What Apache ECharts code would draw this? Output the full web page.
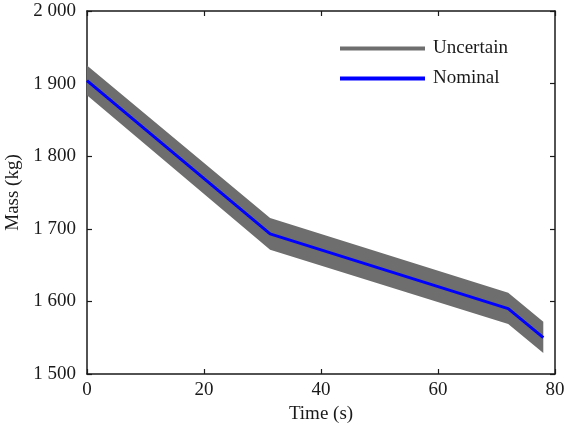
<!DOCTYPE html>
<html>
<head>
<meta charset="utf-8">
<script src="https://cdn.jsdelivr.net/npm/echarts@6/dist/echarts.min.js"></script>
<style>html,body{margin:0;padding:0;background:#fff}#c{width:566px;height:431px}</style>
</head>
<body>
<div id="c"></div>
<script>
var timeS = [0, 31.3, 72, 78];
var nominal = [1904, 1693, 1590, 1550];
var upperBound = [1925, 1715, 1612, 1572];
var lowerBound = [1884, 1671, 1569, 1529];
var yTicks = ['1 500', '1 600', '1 700', '1 800', '1 900', '2 000'];

var chart = echarts.init(document.getElementById('c'));
var font = 'Liberation Serif';
var bandData = timeS.map(function(t,i){ return [t, lowerBound[i], upperBound[i]]; });
var nomData = timeS.map(function(t,i){ return [t, nominal[i]]; });
var axisCommon = {
  axisLine: {show: true, onZero: false, lineStyle: {color: '#1a1a1a', width: 1.5}},
  axisTick: {show: true, inside: true, length: 5, lineStyle: {color: '#1a1a1a', width: 1.2}},
  splitLine: {show: false}
};
chart.setOption({
  animation: false,
  grid: {left: 87, right: 11, top: 11, bottom: 57, containLabel: false, outerBoundsMode: 'none'},
  legend: {
    orient: 'vertical', left: 335, top: 34, itemWidth: 85, itemHeight: 4, itemGap: 11,
    data: [{name: 'Uncertain', icon: 'rect'}, {name: 'Nominal', icon: 'rect'}],
    textStyle: {fontFamily: font, fontSize: 19, color: '#1a1a1a', padding: [0, 0, 0, 3]}
  },
  xAxis: [
    Object.assign({type: 'value', min: 0, max: 80, interval: 20, position: 'bottom',
      name: 'Time (s)', nameLocation: 'middle', nameGap: 29,
      nameTextStyle: {fontFamily: font, fontSize: 19, color: '#1a1a1a'},
      axisLabel: {fontFamily: font, fontSize: 19, color: '#1a1a1a', margin: 7}}, axisCommon),
    Object.assign({type: 'value', min: 0, max: 80, interval: 20, position: 'top', axisLabel: {show: false}}, axisCommon)
  ],
  yAxis: [
    Object.assign({type: 'value', min: 1500, max: 2000, interval: 100, position: 'left',
      name: 'Mass (kg)', nameLocation: 'middle', nameGap: 60, nameRotate: 90,
      nameTextStyle: {fontFamily: font, fontSize: 19, color: '#1a1a1a'},
      axisLabel: {fontFamily: font, fontSize: 19, color: '#1a1a1a', margin: 11,
        formatter: function(v){ var i = Math.round((v-1500)/100); return yTicks[i]; }}}, axisCommon),
    Object.assign({type: 'value', min: 1500, max: 2000, interval: 100, position: 'right', axisLabel: {show: false}}, axisCommon)
  ],
  series: [
    {type: 'custom', name: 'Uncertain', data: bandData, color: '#6e6e6e', z: 2,
      encode: {x: 0, y: [1, 2]},
      renderItem: function(params, api){
        if (params.dataIndex !== 0) return null;
        var top = [], bot = [];
        for (var i = 0; i < bandData.length; i++) {
          top.push(api.coord([bandData[i][0], bandData[i][2]]));
          bot.unshift(api.coord([bandData[i][0], bandData[i][1]]));
        }
        return {type: 'polygon', shape: {points: top.concat(bot)}, style: {fill: '#6e6e6e'}};
      }},
    {type: 'line', name: 'Nominal', data: nomData, symbol: 'none', color: '#0000ff',
      lineStyle: {width: 3, color: '#0000ff'}, z: 3}
  ]
});
</script>
</body>
</html>
